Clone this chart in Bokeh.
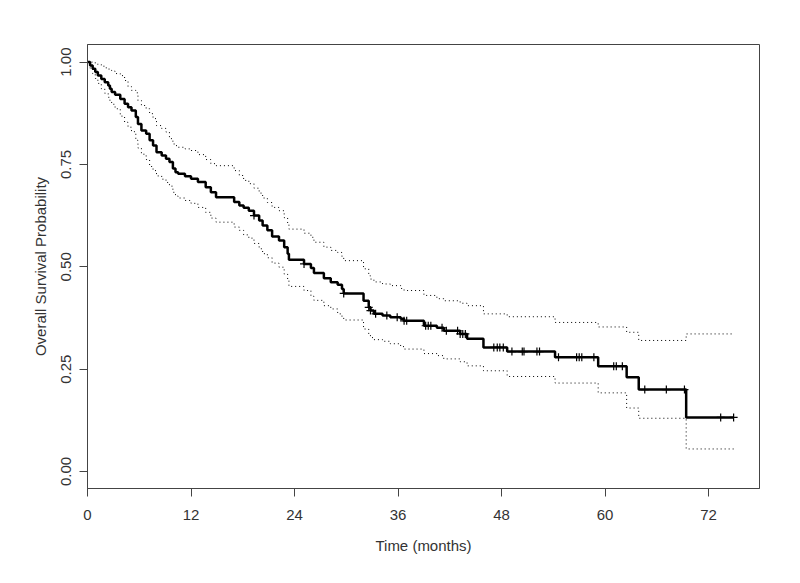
import numpy as np
from bokeh.plotting import figure
from bokeh.models import Range1d, FixedTicker
from bokeh.embed import file_html
from bokeh.resources import INLINE

# Kaplan-Meier estimate: event times and survival after each drop
km_time = [0.0, 0.3, 0.6, 0.9, 1.2, 1.6, 2.0, 2.4, 2.6, 2.8, 3.2, 3.8, 4.3, 4.7, 5.1,
           5.6, 5.85, 6.25, 6.8, 7.2, 7.6, 8.0, 8.6, 9.1, 9.5, 9.9, 10.2, 10.5, 11.3,
           12.0, 12.8, 13.7, 14.3, 14.9, 17.0, 17.6, 18.1, 18.7, 19.3, 19.9, 20.3,
           20.85, 21.4, 22.2, 22.8, 23.2, 23.35, 25.1, 25.9, 26.25, 27.4, 28.2, 29.0,
           29.5, 29.7, 32.0, 32.6, 32.8, 33.2, 34.2, 35.1, 36.3, 36.7, 39.0, 40.5,
           41.3, 43.2, 44.0, 45.9, 48.65, 54.2, 59.2, 62.5, 63.9, 69.4]
km_surv = [1.000, 0.992, 0.984, 0.976, 0.967, 0.959, 0.951, 0.943, 0.935, 0.927, 0.920,
           0.910, 0.898, 0.890, 0.882, 0.866, 0.849, 0.833, 0.825, 0.809, 0.796, 0.780,
           0.772, 0.764, 0.756, 0.740, 0.731, 0.727, 0.721, 0.715, 0.707, 0.694, 0.682,
           0.670, 0.658, 0.650, 0.644, 0.637, 0.625, 0.613, 0.601, 0.589, 0.574, 0.564,
           0.548, 0.532, 0.517, 0.507, 0.497, 0.485, 0.472, 0.462, 0.456, 0.446, 0.435,
           0.417, 0.401, 0.393, 0.385, 0.381, 0.377, 0.373, 0.368, 0.356, 0.351, 0.344,
           0.336, 0.324, 0.303, 0.293, 0.279, 0.257, 0.230, 0.200, 0.132]
upper_ci = [1.000, 1.000, 1.000, 0.996, 0.994, 0.990, 0.986, 0.983, 0.980, 0.978, 0.972,
            0.967, 0.955, 0.940, 0.931, 0.925, 0.906, 0.894, 0.886, 0.874, 0.862, 0.845,
            0.838, 0.829, 0.813, 0.800, 0.796, 0.792, 0.788, 0.784, 0.774, 0.762, 0.752,
            0.747, 0.735, 0.723, 0.711, 0.703, 0.692, 0.680, 0.668, 0.657, 0.645, 0.637,
            0.620, 0.605, 0.592, 0.582, 0.572, 0.560, 0.548, 0.540, 0.535, 0.525, 0.515,
            0.495, 0.478, 0.470, 0.463, 0.458, 0.454, 0.447, 0.442, 0.430, 0.422, 0.417,
            0.411, 0.405, 0.385, 0.378, 0.364, 0.353, 0.340, 0.320, 0.336]
lower_ci = [1.000, 0.985, 0.972, 0.960, 0.948, 0.935, 0.924, 0.914, 0.905, 0.897, 0.886,
            0.868, 0.853, 0.841, 0.830, 0.809, 0.790, 0.775, 0.762, 0.745, 0.735, 0.722,
            0.714, 0.706, 0.697, 0.682, 0.673, 0.668, 0.662, 0.655, 0.645, 0.633, 0.619,
            0.609, 0.597, 0.589, 0.578, 0.570, 0.557, 0.544, 0.532, 0.522, 0.509, 0.499,
            0.482, 0.468, 0.452, 0.442, 0.428, 0.418, 0.405, 0.397, 0.385, 0.378, 0.370,
            0.348, 0.334, 0.327, 0.322, 0.318, 0.312, 0.305, 0.299, 0.288, 0.283, 0.275,
            0.268, 0.258, 0.246, 0.232, 0.216, 0.192, 0.155, 0.130, 0.055]
# censored observations (months)
censor_time = [19.3, 25.1, 29.7, 32.6, 32.8, 33.4, 34.7, 35.9, 36.7, 37.0, 39.2, 39.5,
               39.8, 41.1, 41.6, 42.9, 43.2, 43.5, 43.8, 47.1, 47.5, 47.8, 48.2, 49.2,
               50.4, 50.6, 52.1, 52.4, 54.6, 56.7, 57.0, 57.3, 58.7, 61.0, 61.3, 62.0,
               64.6, 67.1, 69.2, 73.4, 74.9]

x_ticks = [0, 12, 24, 36, 48, 60, 72]
x_tick_labels = ["0", "12", "24", "36", "48", "60", "72"]
y_ticks = [0.0, 0.25, 0.5, 0.75, 1.0]
y_tick_labels = ["0.00", "0.25", "0.50", "0.75", "1.00"]

t_end = max(censor_time)
kt = np.array(km_time)
ks = np.array(km_surv)
step_x = list(km_time) + [t_end]
idx = np.searchsorted(kt, np.array(censor_time), side="right") - 1
censor_surv = ks[idx]

FONT = "Liberation Sans"
TXT = "#333333"
LN = "#444444"

p = figure(width=784, height=567, output_backend="svg", toolbar_location=None,
           x_range=Range1d(0, 77.9), y_range=Range1d(-0.0416, 1.043),
           min_border_left=87, min_border_right=25, min_border_top=44,
           min_border_bottom=79)
p.title.visible = False
p.xgrid.visible = False
p.ygrid.visible = False
p.background_fill_color = "white"
p.border_fill_color = "white"
p.outline_line_color = LN
p.outline_line_width = 1

p.step(step_x, list(upper_ci) + [upper_ci[-1]], mode="after", line_color="black",
       line_width=1, line_dash="1 3")
p.step(step_x, list(lower_ci) + [lower_ci[-1]], mode="after", line_color="black",
       line_width=1, line_dash="1 3")
p.step(step_x, list(km_surv) + [km_surv[-1]], mode="after", line_color="black",
       line_width=2.5)
p.scatter(censor_time, censor_surv, marker="cross", size=8, line_color="black",
          line_width=1.2)

for ax in (p.xaxis[0], p.yaxis[0]):
    ax.axis_line_color = LN
    ax.major_tick_line_color = LN
    ax.minor_tick_line_color = None
    ax.major_tick_in = 0
    ax.major_tick_out = 8
    ax.major_label_text_font = FONT
    ax.major_label_text_font_size = "15px"
    ax.major_label_text_color = TXT
    ax.axis_label_text_font = FONT
    ax.axis_label_text_font_size = "15px"
    ax.axis_label_text_font_style = "normal"
    ax.axis_label_text_color = TXT

p.xaxis.ticker = FixedTicker(ticks=x_ticks)
p.xaxis.major_label_overrides = {t: l for t, l in zip(x_ticks, x_tick_labels)}
p.yaxis.ticker = FixedTicker(ticks=y_ticks)
p.yaxis.major_label_overrides = {t: l for t, l in zip(y_ticks, y_tick_labels)}
p.yaxis.major_label_orientation = "parallel"
p.xaxis.axis_label = "Time (months)"
p.yaxis.axis_label = "Overall Survival Probability"
p.xaxis.major_label_standoff = 13
p.yaxis.major_label_standoff = 8
p.xaxis.axis_label_standoff = 14
p.yaxis.axis_label_standoff = 10

open("out.html", "w").write(file_html(p, INLINE))
